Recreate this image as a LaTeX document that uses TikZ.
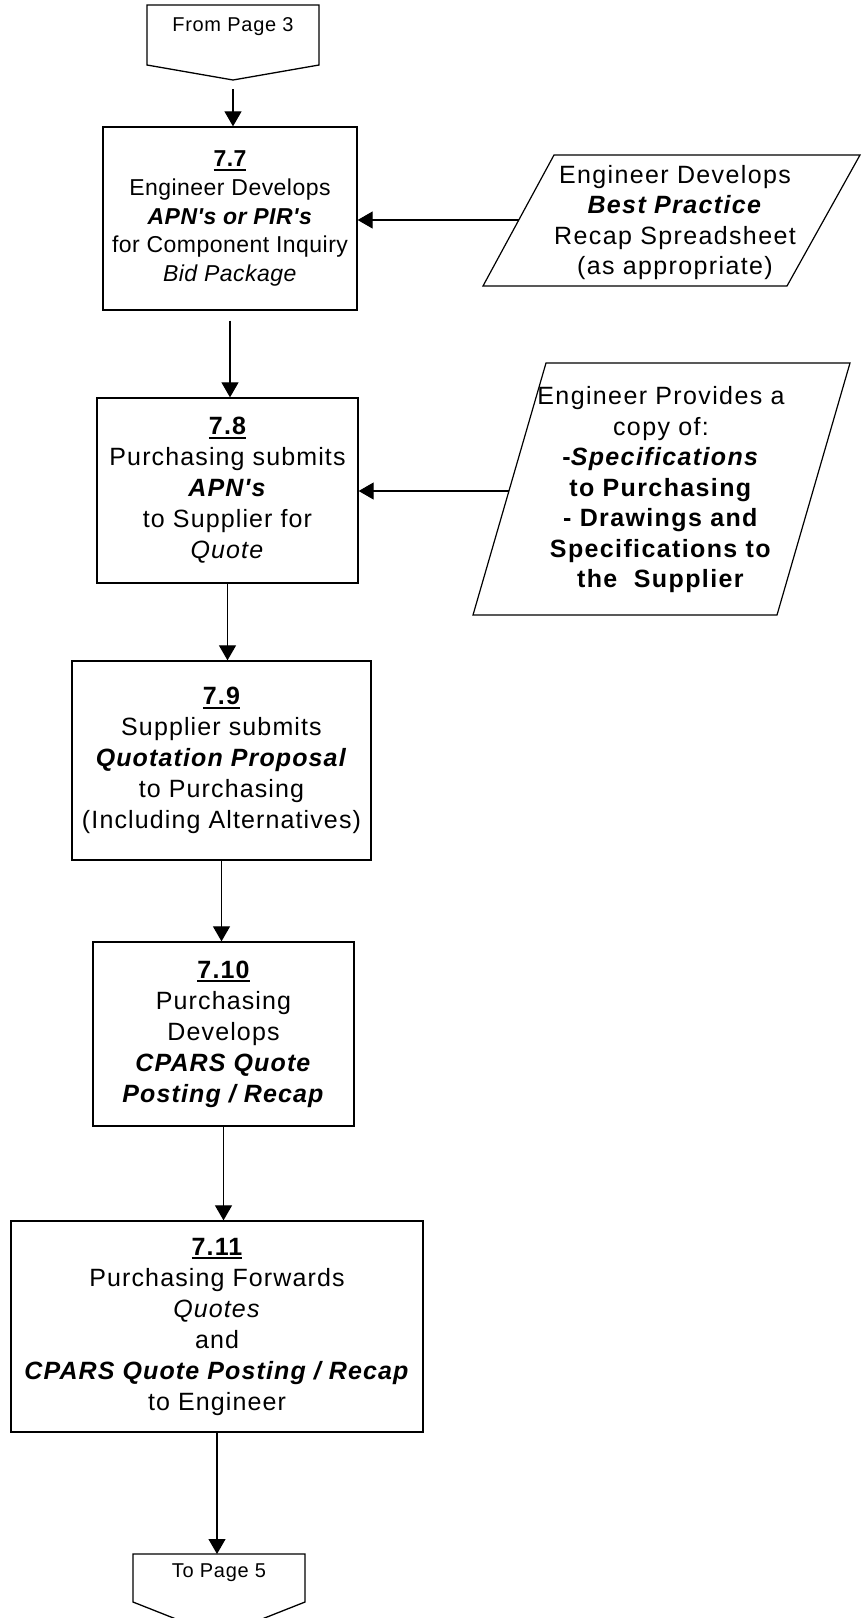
\documentclass[tikz,border=0pt]{standalone}
\usepackage{fontspec}
\setmainfont{Liberation Sans}
\newfontfamily\chartfont{Liberation Sans}[LetterSpace=4.5]
\newfontfamily\sheetfont{Liberation Sans}[LetterSpace=5.5]
\newfontfamily\tightfont{Liberation Sans}[LetterSpace=2]
\newfontfamily\pagefont{Liberation Sans}[LetterSpace=3.5]
\usetikzlibrary{arrows.meta}

% bold step number with a heavy underline
\newcommand{\stepno}[1]{{\setbox0=\hbox{\bfseries #1}\dimen0=\wd0 \leavevmode\rlap{\box0}\rule[-4pt]{\dimen0}{1.8pt}}}

\begin{document}
\begin{tikzpicture}[x=1pt,y=-1pt,
  flow/.style={line width=1.1pt, -{Triangle[length=15pt,width=17pt]}},
  procbox/.style={draw, line width=1.3pt, align=center, inner sep=0pt,
    font={\chartfont\fontsize{25}{31}\selectfont}},
  smallproc/.style={procbox, font={\tightfont\fontsize{23}{28.7}\selectfont}},
  iobox/.style={draw, line width=1.2pt, line join=miter},
  iotext/.style={align=center, inner sep=0pt, font={\sheetfont\fontsize{25}{30.5}\selectfont}},
  pagetext/.style={inner sep=0pt, font={\pagefont\fontsize{20}{24}\selectfont}},
  pagebox/.style={draw, line width=1.3pt, line join=miter}
]
\useasboundingbox (0,0) rectangle (865,1618);
\clip (0,0) rectangle (865,1618);

% off-page connector at the top
\coordinate (fp3nw) at (147,5);
\coordinate (fp3ne) at (319,5);
\coordinate (fp3se) at (319,65);
\coordinate (fp3tip) at (233,80);
\coordinate (fp3sw) at (147,65);
\draw[pagebox] (fp3nw) -- (fp3ne) -- (fp3se) -- (fp3tip) -- (fp3sw) -- cycle;
\node[pagetext] (fp3) at (233,27) {From Page 3};

% process steps
\node[smallproc, minimum width=254pt, minimum height=183pt] (box77) at (230,218.5)
  {\stepno{7.7}\\ Engineer Develops\\ \textbf{\textit{APN's or PIR's}}\\ for Component Inquiry\\ \textit{Bid Package}};
\node[procbox, minimum width=261pt, minimum height=185pt] (box78) at (227.5,490.5)
  {\stepno{7.8}\\ Purchasing submits\\ \textbf{\textit{APN's}}\\ to Supplier for\\ \textit{Quote}};
\node[procbox, minimum width=299pt, minimum height=199pt] (box79) at (221.5,760.5)
  {\stepno{7.9}\\ Supplier submits\\ \textbf{\textit{Quotation Proposal}}\\ to Purchasing\\ (Including Alternatives)};
\node[procbox, minimum width=261pt, minimum height=184pt] (box710) at (223.5,1034)
  {\stepno{7.10}\\ Purchasing\\ Develops\\ \textbf{\textit{CPARS Quote}}\\ \textbf{\textit{Posting / Recap}}};
\node[procbox, minimum width=412pt, minimum height=211pt] (box711) at (217,1326.5)
  {\stepno{7.11}\\ Purchasing Forwards\\ \textit{Quotes}\\ and\\ \textbf{\textit{CPARS Quote Posting / Recap}}\\ to Engineer};

% input sheets
\coordinate (p1tl) at (554,155);
\coordinate (p1tr) at (860,155);
\coordinate (p1br) at (787,286);
\coordinate (p1bl) at (483,286);
\draw[iobox] (p1tl) -- (p1tr) -- (p1br) -- (p1bl) -- cycle;
\node[iotext] (p1) at (675,222.5)
  {Engineer Develops\\ \textbf{\textit{Best Practice}}\\ Recap Spreadsheet\\ (as appropriate)};
\coordinate (p1in) at (519,220);

\coordinate (p2tl) at (546,363);
\coordinate (p2tr) at (850,363);
\coordinate (p2br) at (777,615);
\coordinate (p2bl) at (473,615);
\draw[iobox] (p2tl) -- (p2tr) -- (p2br) -- (p2bl) -- cycle;
\node[iotext] (p2) at (661,490)
  {Engineer Provides a\\ copy of:\\ \textbf{-\textit{Specifications}}\\ \textbf{to Purchasing}\\ \textbf{- Drawings and}\\ \textbf{Specifications to}\\ \textbf{the\ \ Supplier}};
\coordinate (p2in) at (509,491);

% off-page connector at the bottom
\coordinate (tp5nw) at (133,1554);
\coordinate (tp5ne) at (305,1554);
\coordinate (tp5se) at (305,1602);
\coordinate (tp5tip) at (219,1636);
\coordinate (tp5sw) at (133,1602);
\draw[pagebox] (tp5nw) -- (tp5ne) -- (tp5se) -- (tp5tip) -- (tp5sw) -- cycle;
\node[pagetext] (tp5) at (219,1573) {To Page 5};

% connectors
\draw[flow, shorten <=9pt] (fp3tip) -- (fp3tip |- box77.north);
\draw[flow, shorten <=10pt] (box77.south) -- (box77.south |- box78.north);
\draw[flow] (box78.south) -- (box78.south |- box79.north);
\draw[flow] (box79.south) -- (box79.south |- box710.north);
\draw[flow] (box710.south) -- (box710.south |- box711.north);
\draw[flow] (box711.south) -- (box711.south |- tp5nw);
\draw[flow] (p1in) -- (p1in -| box77.east);
\draw[flow] (p2in) -- (p2in -| box78.east);
\end{tikzpicture}
\end{document}
